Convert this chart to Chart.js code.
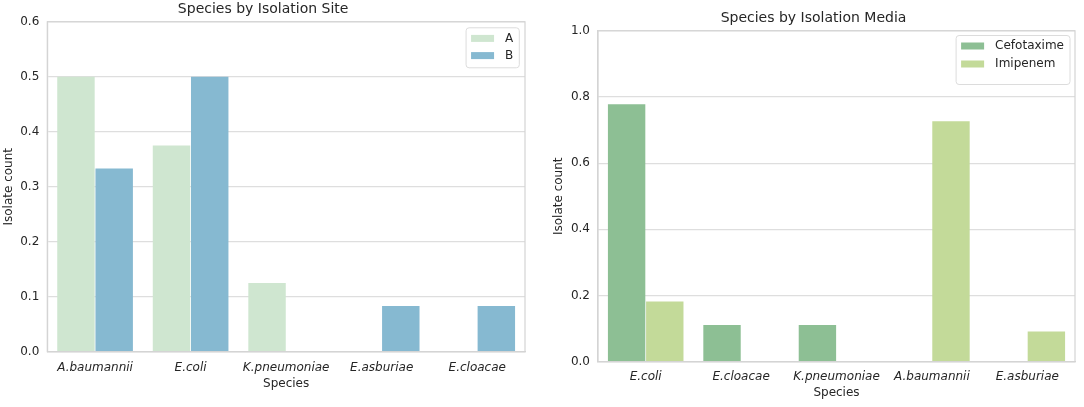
<!DOCTYPE html>
<html>
<head>
<meta charset="utf-8">
<title>Species by Isolation Site / Media</title>
<script src="https://cdn.jsdelivr.net/npm/chart.js@4.4.1/dist/chart.umd.min.js"></script>
<style>
  html, body { margin: 0; padding: 0; background: #ffffff; }
  .panel { position: absolute; top: 0; width: 542px; height: 407px; }
  #left-panel { left: 0; }
  #right-panel { left: 542px; }
</style>
</head>
<body>
<div class="panel" id="left-panel"><canvas id="siteChart"></canvas></div>
<div class="panel" id="right-panel"><canvas id="mediaChart"></canvas></div>
<script>
// Left panel: species by isolation site
const siteSpecies = ['A.baumannii', 'E.coli', 'K.pneumoniae', 'E.asburiae', 'E.cloacae'];
const siteA = [0.5, 0.375, 0.125, 0, 0];
const siteB = [0.333, 0.5, 0, 0.083, 0.083];
const siteTicks = [0, 0.1, 0.2, 0.3, 0.4, 0.5, 0.6];

// Right panel: species by isolation media
const mediaSpecies = ['E.coli', 'E.cloacae', 'K.pneumoniae', 'A.baumannii', 'E.asburiae'];
const cefotaxime = [0.778, 0.111, 0.111, 0, 0];
const imipenem = [0.182, 0, 0, 0.727, 0.091];
const mediaTicks = [0, 0.2, 0.4, 0.6, 0.8, 1.0];

const FONT = '"DejaVu Sans", Verdana, sans-serif';
const TEXT = '#262626';
const GRID = '#dedede';
const FRAME = '#d4d4d4';

Chart.defaults.font.family = FONT;
Chart.defaults.color = TEXT;
Chart.defaults.animation = false;

// frame round the plot area plus a seaborn-like legend drawn inside it
const framePlugin = {
    id: 'frameLegend',
    afterDraw(chart, args, opts) {
        const {ctx, chartArea: a} = chart;
        ctx.save();
        ctx.strokeStyle = FRAME;
        ctx.lineWidth = 1.2;
        ctx.strokeRect(a.left, a.top, a.right - a.left, a.bottom - a.top);

        ctx.font = '12px ' + FONT;
        const sets = chart.data.datasets;
        const textW = Math.max(...sets.map(d => ctx.measureText(d.label).width));
        const w = 5 + 23 + 11 + textW + 6;
        const x = a.right - opts.right - w;
        const y = a.top + opts.top;

        ctx.beginPath();
        ctx.roundRect(x, y, w, opts.height, 3);
        ctx.fillStyle = 'rgba(255,255,255,0.85)';
        ctx.fill();
        ctx.strokeStyle = '#dcdcdc';
        ctx.lineWidth = 1;
        ctx.stroke();

        sets.forEach((d, i) => {
            const cy = y + opts.firstRow + i * opts.rowGap;
            ctx.fillStyle = d.backgroundColor;
            ctx.fillRect(x + 5, cy - 3.5, 23, 7);
            ctx.fillStyle = TEXT;
            ctx.textBaseline = 'middle';
            ctx.textAlign = 'left';
            ctx.fillText(d.label, x + 39, cy);
        });
        ctx.restore();
    }
};

function makeChart(canvasId, cfg) {
    return new Chart(document.getElementById(canvasId), {
        type: 'bar',
        data: {
            labels: cfg.labels,
            datasets: cfg.series.map(s => ({
                label: s.label,
                data: s.data,
                backgroundColor: s.color,
                borderWidth: 0,
                categoryPercentage: 0.8,
                barPercentage: 0.98
            }))
        },
        options: {
            responsive: true,
            maintainAspectRatio: false,
            layout: { padding: cfg.padding },
            plugins: {
                legend: { display: false },
                tooltip: { enabled: false },
                title: {
                    display: true,
                    text: cfg.title,
                    font: { size: 14, weight: 'normal' },
                    padding: { top: 0, bottom: 4 },
                    color: TEXT
                },
                frameLegend: cfg.legend
            },
            scales: {
                x: {
                    grid: { display: false, drawTicks: false },
                    border: { color: FRAME, width: 1.2 },
                    ticks: { font: { size: 12, style: 'italic' }, padding: cfg.xPad, maxRotation: 0 },
                    title: { display: true, text: 'Species', font: { size: 12 }, padding: 0 },
                    afterFit: s => { s.height = cfg.xHeight; }
                },
                y: {
                    min: 0,
                    max: cfg.ticks[cfg.ticks.length - 1],
                    afterBuildTicks: s => { s.ticks = cfg.ticks.map(v => ({ value: v })); },
                    grid: { color: GRID, lineWidth: 1.2, drawTicks: false },
                    border: { color: FRAME, width: 1.2 },
                    ticks: { font: { size: 12 }, padding: 8, callback: v => Number(v).toFixed(1) },
                    title: { display: true, text: 'Isolate count', font: { size: 12 }, padding: 0 },
                    afterFit: s => { s.width = 46; }
                }
            }
        },
        plugins: [framePlugin]
    });
}

makeChart('siteChart', {
    labels: siteSpecies,
    title: 'Species by Isolation Site',
    series: [
        { label: 'A', data: siteA, color: '#cfe6d0' },
        { label: 'B', data: siteB, color: '#86b9d1' }
    ],
    ticks: siteTicks,
    padding: { top: 1, left: 1.3, right: 17, bottom: 15.8 },
    xHeight: 39.5,
    xPad: 9,
    legend: { right: 5.7, top: 6, height: 40, firstRow: 10.6, rowGap: 17.2 }
});

makeChart('mediaChart', {
    labels: mediaSpecies,
    title: 'Species by Isolation Media',
    series: [
        { label: 'Cefotaxime', data: cefotaxime, color: '#8dbf94' },
        { label: 'Imipenem', data: imipenem, color: '#c3da99' }
    ],
    ticks: mediaTicks,
    padding: { top: 10, left: 10, right: 9, bottom: 6.8 },
    xHeight: 38.5,
    xPad: 8,
    legend: { right: 5, top: 4.7, height: 49, firstRow: 10.5, rowGap: 18 }
});
</script>
</body>
</html>
